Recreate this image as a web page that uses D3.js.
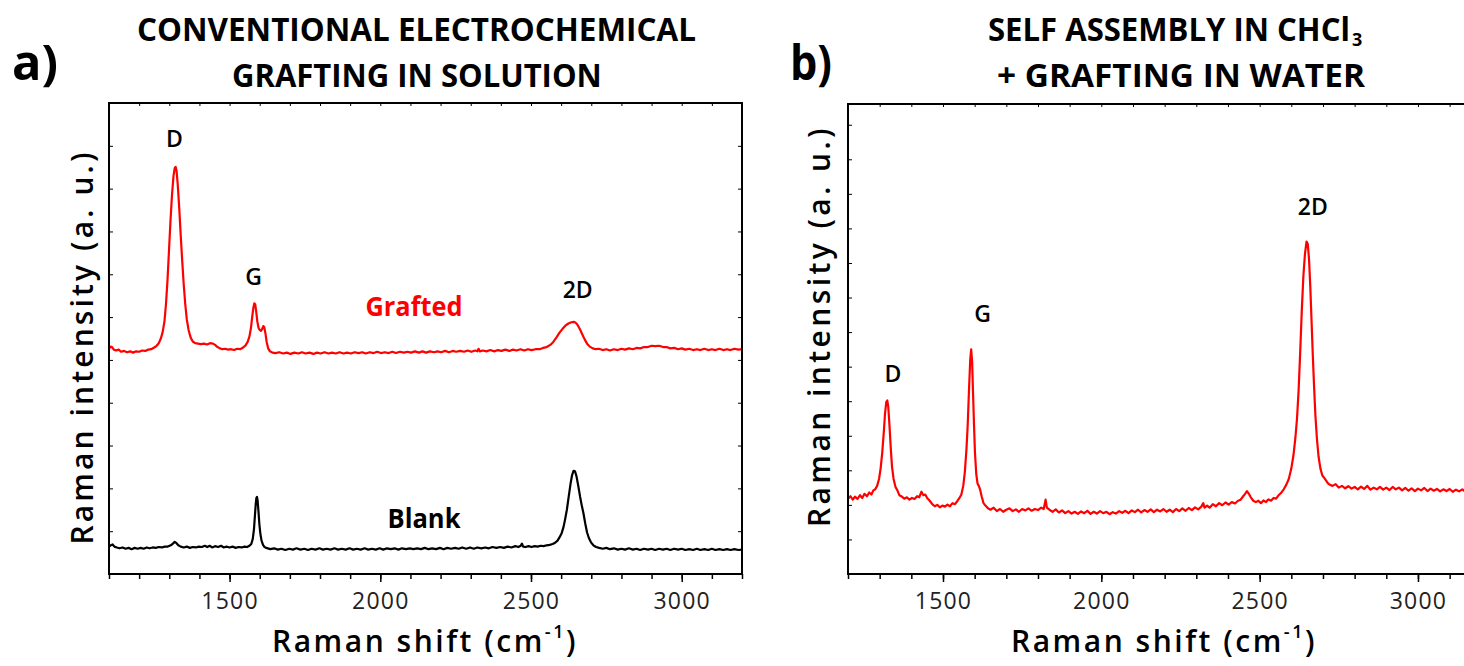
<!DOCTYPE html>
<html><head><meta charset="utf-8">
<script src="https://cdn.jsdelivr.net/npm/d3@7"></script>
<style>html,body{margin:0;padding:0;background:#fff;}svg{display:block;}</style>
</head><body>
<svg id="c" width="1464" height="666"></svg>
<script>
// ---------- DATA ----------
const ticksMajorA = [1500, 2000, 2500, 3000];
const ticksMajorB = [1500, 2000, 2500, 3000];
const peakLabelsA = [["D", 1317, 9.98], ["G", 1580, 6.75], ["2D", 2655, 6.45]];
const peakLabelsB = [["D", 1342, 5.55], ["G", 1625, 7.3], ["2D", 2668, 10.4]];

const graftedA = [[1100,5.26],[1106,5.31],[1110,5.30],[1116,5.24],[1124,5.22],[1132,5.24],[1140,5.19],[1150,5.21],[1160,5.18],[1170,5.20],[1180,5.17],[1190,5.20],[1200,5.19],[1210,5.22],[1220,5.21],[1230,5.24],[1240,5.25],[1250,5.29],[1258,5.33],[1265,5.39],[1272,5.50],[1278,5.65],[1284,5.90],[1289,6.30],[1294,6.85],[1299,7.55],[1304,8.25],[1309,8.85],[1314,9.30],[1318,9.48],[1321,9.51],[1324,9.42],[1328,9.10],[1333,8.55],[1338,7.90],[1343,7.30],[1348,6.75],[1353,6.30],[1358,5.95],[1364,5.70],[1371,5.52],[1378,5.43],[1386,5.39],[1395,5.38],[1405,5.37],[1415,5.38],[1425,5.36],[1435,5.39],[1445,5.38],[1452,5.35],[1460,5.30],[1468,5.27],[1476,5.25],[1485,5.26],[1495,5.24],[1505,5.25],[1515,5.23],[1525,5.26],[1535,5.25],[1545,5.29],[1553,5.34],[1560,5.42],[1566,5.55],[1571,5.75],[1575,6.00],[1579,6.22],[1582,6.32],[1585,6.30],[1588,6.15],[1592,5.90],[1596,5.75],[1600,5.70],[1604,5.68],[1608,5.72],[1612,5.79],[1615,5.77],[1619,5.62],[1623,5.42],[1628,5.27],[1634,5.20],[1642,5.17],[1652,5.16],[1665,5.18],[1678,5.15],[1690,5.17],[1702,5.14],[1715,5.17],[1728,5.15],[1740,5.18],[1752,5.15],[1765,5.17],[1778,5.14],[1790,5.17],[1802,5.15],[1815,5.18],[1828,5.15],[1840,5.17],[1852,5.15],[1865,5.18],[1878,5.15],[1890,5.17],[1902,5.15],[1915,5.18],[1928,5.16],[1940,5.18],[1952,5.15],[1965,5.18],[1978,5.16],[1990,5.19],[2002,5.16],[2015,5.18],[2028,5.16],[2040,5.19],[2052,5.16],[2065,5.19],[2078,5.17],[2090,5.19],[2102,5.17],[2115,5.20],[2128,5.17],[2140,5.20],[2152,5.17],[2165,5.20],[2178,5.18],[2190,5.20],[2202,5.18],[2215,5.21],[2228,5.18],[2240,5.21],[2252,5.19],[2265,5.21],[2278,5.19],[2290,5.22],[2302,5.19],[2315,5.22],[2322,5.20],[2326,5.26],[2330,5.20],[2340,5.22],[2352,5.20],[2365,5.23],[2378,5.20],[2390,5.23],[2402,5.21],[2415,5.24],[2428,5.21],[2440,5.24],[2452,5.22],[2465,5.25],[2478,5.22],[2490,5.25],[2502,5.23],[2515,5.25],[2528,5.25],[2540,5.28],[2552,5.30],[2564,5.35],[2574,5.42],[2584,5.52],[2594,5.63],[2604,5.72],[2614,5.80],[2624,5.85],[2634,5.88],[2642,5.89],[2648,5.87],[2654,5.82],[2662,5.72],[2670,5.60],[2678,5.48],[2686,5.38],[2695,5.31],[2705,5.27],[2715,5.25],[2725,5.26],[2738,5.23],[2750,5.25],[2762,5.22],[2775,5.25],[2788,5.23],[2800,5.26],[2812,5.24],[2825,5.27],[2838,5.25],[2850,5.28],[2862,5.27],[2875,5.30],[2888,5.30],[2900,5.33],[2912,5.32],[2925,5.33],[2938,5.30],[2950,5.30],[2962,5.27],[2975,5.28],[2988,5.25],[3000,5.27],[3012,5.24],[3025,5.26],[3038,5.23],[3050,5.25],[3062,5.23],[3075,5.26],[3088,5.23],[3100,5.25],[3112,5.23],[3125,5.26],[3138,5.23],[3150,5.25],[3162,5.23],[3175,5.26],[3188,5.24],[3200,5.25]];

const blankA = [[1100,0.64],[1106,0.67],[1112,0.69],[1118,0.64],[1126,0.62],[1135,0.60],[1145,0.62],[1155,0.59],[1165,0.61],[1175,0.58],[1185,0.61],[1195,0.59],[1205,0.61],[1215,0.59],[1225,0.62],[1235,0.60],[1245,0.62],[1255,0.61],[1265,0.63],[1275,0.62],[1285,0.64],[1295,0.64],[1305,0.67],[1312,0.71],[1318,0.75],[1324,0.72],[1330,0.67],[1338,0.64],[1348,0.62],[1358,0.64],[1368,0.61],[1378,0.63],[1388,0.62],[1398,0.64],[1408,0.63],[1418,0.66],[1426,0.63],[1434,0.66],[1442,0.62],[1452,0.65],[1462,0.63],[1472,0.66],[1480,0.62],[1490,0.64],[1500,0.62],[1510,0.64],[1520,0.61],[1530,0.63],[1540,0.62],[1550,0.64],[1558,0.63],[1566,0.66],[1572,0.70],[1577,0.82],[1581,1.05],[1584,1.35],[1587,1.65],[1589,1.78],[1591,1.80],[1593,1.72],[1596,1.45],[1599,1.15],[1602,0.95],[1606,0.78],[1611,0.68],[1616,0.63],[1622,0.61],[1635,0.58],[1648,0.60],[1660,0.57],[1672,0.59],[1685,0.56],[1698,0.59],[1710,0.57],[1722,0.60],[1735,0.57],[1748,0.59],[1760,0.56],[1772,0.59],[1785,0.57],[1798,0.60],[1810,0.57],[1822,0.59],[1835,0.57],[1848,0.60],[1860,0.57],[1872,0.59],[1885,0.57],[1898,0.60],[1910,0.57],[1922,0.59],[1935,0.57],[1948,0.60],[1960,0.57],[1972,0.59],[1985,0.57],[1998,0.60],[2010,0.57],[2022,0.60],[2035,0.58],[2048,0.60],[2060,0.57],[2072,0.60],[2085,0.58],[2098,0.60],[2110,0.58],[2122,0.60],[2135,0.58],[2148,0.61],[2160,0.58],[2172,0.60],[2185,0.58],[2198,0.61],[2210,0.58],[2222,0.61],[2235,0.59],[2248,0.61],[2260,0.59],[2272,0.62],[2285,0.59],[2298,0.62],[2310,0.59],[2322,0.62],[2335,0.60],[2348,0.62],[2360,0.60],[2372,0.63],[2385,0.61],[2398,0.63],[2410,0.61],[2422,0.64],[2435,0.62],[2448,0.65],[2458,0.63],[2466,0.66],[2470,0.71],[2474,0.64],[2482,0.63],[2492,0.65],[2502,0.63],[2512,0.65],[2522,0.64],[2532,0.66],[2542,0.65],[2552,0.67],[2562,0.68],[2572,0.70],[2580,0.73],[2588,0.78],[2595,0.86],[2602,0.96],[2608,1.10],[2613,1.27],[2619,1.50],[2625,1.80],[2631,2.10],[2636,2.30],[2641,2.41],[2646,2.40],[2651,2.28],[2657,2.05],[2663,1.80],[2669,1.58],[2674,1.42],[2680,1.18],[2686,0.97],[2692,0.84],[2699,0.74],[2707,0.67],[2716,0.63],[2726,0.61],[2738,0.59],[2750,0.61],[2762,0.58],[2775,0.60],[2788,0.57],[2800,0.59],[2812,0.57],[2825,0.60],[2838,0.57],[2850,0.59],[2862,0.56],[2875,0.59],[2888,0.57],[2900,0.59],[2912,0.56],[2925,0.59],[2938,0.57],[2950,0.59],[2962,0.56],[2975,0.59],[2988,0.57],[3000,0.59],[3012,0.56],[3025,0.58],[3038,0.56],[3050,0.59],[3062,0.56],[3075,0.58],[3088,0.56],[3100,0.59],[3112,0.56],[3125,0.58],[3138,0.56],[3150,0.58],[3162,0.56],[3175,0.58],[3188,0.56],[3200,0.57]];

const spectrumB = [[1200,2.18],[1208,2.25],[1215,2.15],[1222,2.24],[1230,2.17],[1238,2.28],[1245,2.20],[1252,2.32],[1260,2.25],[1267,2.36],[1274,2.30],[1280,2.42],[1286,2.45],[1292,2.55],[1298,2.75],[1303,3.05],[1308,3.50],[1313,4.10],[1317,4.65],[1321,4.98],[1324,5.02],[1327,4.85],[1331,4.30],[1335,3.65],[1339,3.10],[1344,2.75],[1350,2.52],[1356,2.42],[1362,2.28],[1370,2.24],[1378,2.18],[1386,2.22],[1394,2.15],[1402,2.20],[1410,2.17],[1418,2.25],[1425,2.22],[1432,2.38],[1438,2.28],[1444,2.30],[1450,2.20],[1458,2.12],[1466,2.02],[1474,1.96],[1482,2.00],[1490,1.93],[1498,1.98],[1506,1.95],[1514,2.01],[1522,1.96],[1530,2.05],[1538,2.02],[1546,2.12],[1552,2.20],[1558,2.30],[1564,2.55],[1569,2.95],[1574,3.60],[1578,4.30],[1582,5.30],[1586,6.20],[1589,6.50],[1592,6.15],[1595,5.20],[1598,4.30],[1601,3.50],[1605,2.90],[1609,2.62],[1613,2.55],[1617,2.45],[1622,2.25],[1628,2.05],[1634,1.98],[1642,1.90],[1650,1.86],[1660,1.92],[1670,1.82],[1680,1.88],[1690,1.80],[1700,1.86],[1710,1.90],[1720,1.82],[1730,1.87],[1740,1.80],[1750,1.88],[1760,1.84],[1770,1.90],[1780,1.83],[1790,1.88],[1800,1.85],[1810,1.92],[1818,1.88],[1824,2.15],[1828,1.92],[1836,1.86],[1846,1.80],[1856,1.87],[1866,1.78],[1876,1.84],[1886,1.76],[1896,1.82],[1906,1.75],[1916,1.80],[1926,1.74],[1936,1.81],[1946,1.76],[1956,1.83],[1966,1.74],[1976,1.80],[1986,1.75],[1996,1.82],[2006,1.76],[2016,1.80],[2026,1.73],[2036,1.79],[2046,1.75],[2056,1.82],[2066,1.77],[2076,1.83],[2086,1.76],[2096,1.84],[2106,1.79],[2116,1.86],[2126,1.78],[2136,1.85],[2146,1.80],[2156,1.87],[2166,1.79],[2176,1.86],[2186,1.81],[2196,1.88],[2206,1.80],[2216,1.86],[2226,1.79],[2236,1.88],[2246,1.82],[2256,1.90],[2266,1.83],[2276,1.91],[2286,1.85],[2296,1.93],[2306,1.87],[2316,1.95],[2322,2.05],[2326,1.92],[2334,1.98],[2342,1.92],[2352,2.02],[2362,1.96],[2372,2.05],[2382,1.99],[2392,2.07],[2402,2.01],[2412,2.08],[2422,2.04],[2432,2.12],[2440,2.15],[2448,2.25],[2454,2.32],[2460,2.40],[2466,2.32],[2472,2.22],[2480,2.12],[2488,2.08],[2496,2.12],[2504,2.05],[2512,2.13],[2520,2.08],[2528,2.16],[2536,2.12],[2544,2.20],[2552,2.18],[2560,2.28],[2568,2.35],[2576,2.45],[2584,2.58],[2592,2.75],[2600,3.05],[2607,3.45],[2613,3.95],[2618,4.50],[2623,5.30],[2628,6.40],[2633,7.60],[2638,8.60],[2643,9.25],[2648,9.62],[2652,9.55],[2656,9.10],[2660,8.30],[2664,7.30],[2668,6.30],[2672,5.40],[2676,4.60],[2681,3.90],[2686,3.40],[2692,3.05],[2698,2.85],[2704,2.78],[2710,2.70],[2716,2.62],[2722,2.58],[2730,2.55],[2740,2.60],[2750,2.50],[2760,2.55],[2770,2.48],[2780,2.54],[2790,2.47],[2800,2.52],[2810,2.45],[2820,2.53],[2830,2.46],[2840,2.55],[2850,2.44],[2860,2.50],[2870,2.45],[2880,2.52],[2890,2.44],[2900,2.50],[2910,2.43],[2920,2.52],[2930,2.45],[2940,2.50],[2950,2.42],[2960,2.49],[2970,2.41],[2980,2.48],[2990,2.40],[3000,2.47],[3010,2.42],[3020,2.49],[3030,2.40],[3040,2.47],[3050,2.41],[3060,2.46],[3070,2.39],[3080,2.45],[3090,2.40],[3100,2.46],[3110,2.38],[3120,2.44],[3130,2.39],[3140,2.45],[3150,2.38],[3160,2.44],[3170,2.39],[3180,2.45],[3190,2.40],[3200,2.44]];

// ---------- DRAW ----------
const svg = d3.select("#c");
const TITLE_FONT = "'Open Sans','Noto Sans',sans-serif";
const AX_FONT = "'Open Sans','Noto Sans',sans-serif";

function fitSpacing(sel, target) {
  const node = sel.node();
  const w = node.getBBox().width;
  const n = node.textContent.length;
  sel.attr("letter-spacing", ((target - w) / n).toFixed(2));
}

// bold condensed text: natural text squeezed horizontally by a transform
function squeezed(txt, x0, w, yb, size, color, anchor) {
  const t = svg.append("text").attr("x", 0).attr("y", 0).attr("font-family", TITLE_FONT)
    .attr("font-weight", "bold").attr("font-size", size).attr("fill", color || "#000").text(txt);
  const nat = t.node().getComputedTextLength();
  const k = w / nat;
  const left = anchor === "middle" ? x0 - w / 2 : x0;
  t.attr("transform", `translate(${left},${yb}) scale(${k.toFixed(4)},1)`);
  return t;
}

function panel(cfg) {
  const g = svg.append("g");
  const x = d3.scaleLinear().domain(cfg.xDomain).range([cfg.left, cfg.right]);
  const y = d3.scaleLinear().domain(cfg.yDomain).range([cfg.bottom, cfg.top]);
  const minor = d3.range(cfg.xDomain[0], cfg.xDomain[1] + 1, 100);
  const yt = d3.range(1, cfg.yDomain[1], 1);

  g.append("g").attr("transform", `translate(0,${cfg.bottom})`)
    .call(d3.axisBottom(x).tickValues(minor).tickSize(5).tickFormat(""))
    .call(a => a.select(".domain").remove())
    .call(a => a.selectAll("line").attr("stroke", "#000").attr("stroke-width", 1.5));
  g.append("g").attr("transform", `translate(0,${cfg.bottom})`)
    .call(d3.axisBottom(x).tickValues(cfg.major).tickSize(8).tickPadding(11).tickFormat(d3.format("d")))
    .call(a => a.select(".domain").remove())
    .call(a => a.selectAll("line").attr("stroke", "#000").attr("stroke-width", 1.5))
    .call(a => a.selectAll("text").attr("font-family", AX_FONT).attr("font-size", 23)
      .attr("fill", "#222").attr("letter-spacing", 1.2));
  g.append("g").attr("transform", `translate(0,${cfg.top})`)
    .call(d3.axisBottom(x).tickValues(minor).tickSize(3).tickFormat(""))
    .call(a => a.select(".domain").remove())
    .call(a => a.selectAll("line").attr("stroke", "#000").attr("stroke-width", 1));
  g.append("g").attr("transform", `translate(${cfg.left},0)`)
    .call(d3.axisRight(y).tickValues(yt).tickSize(4).tickFormat(""))
    .call(a => a.select(".domain").remove())
    .call(a => a.selectAll("line").attr("stroke", "#000").attr("stroke-width", 1));
  g.append("g").attr("transform", `translate(${cfg.right},0)`)
    .call(d3.axisLeft(y).tickValues(yt).tickSize(4).tickFormat(""))
    .call(a => a.select(".domain").remove())
    .call(a => a.selectAll("line").attr("stroke", "#000").attr("stroke-width", 1));

  const line = d3.line().x(d => x(d[0])).y(d => y(d[1]));
  cfg.series.forEach(s => {
    g.append("path").datum(s.data).attr("d", line).attr("fill", "none")
      .attr("stroke", s.color).attr("stroke-width", 2.2).attr("stroke-linejoin", "round");
  });

  g.append("rect").attr("x", cfg.left).attr("y", cfg.top)
    .attr("width", cfg.right - cfg.left).attr("height", cfg.bottom - cfg.top)
    .attr("fill", "none").attr("stroke", "#000").attr("stroke-width", 2);

  cfg.peaks.forEach(p => {
    g.append("text").attr("x", x(p[1])).attr("y", y(p[2])).attr("text-anchor", "middle")
      .attr("font-family", AX_FONT).attr("font-weight", 600).attr("font-size", 23)
      .attr("fill", "#000").text(p[0]);
  });

  const yt1 = g.append("text")
    .attr("transform", `translate(${cfg.yTitleX},${cfg.yTitleY}) rotate(-90)`)
    .attr("text-anchor", "middle").attr("font-family", AX_FONT).attr("font-weight", 600)
    .attr("font-size", 30).attr("fill", "#000").text("Raman intensity (a. u.)");
  fitSpacing(yt1, cfg.yTitleLen);

  const xt = g.append("text").attr("x", cfg.xTitleX).attr("y", 652).attr("text-anchor", "middle")
    .attr("font-family", AX_FONT).attr("font-weight", 600).attr("font-size", 30).attr("fill", "#000");
  xt.append("tspan").text("Raman shift (cm");
  xt.append("tspan").attr("font-size", 18).attr("dy", -14).text("-1");
  xt.append("tspan").attr("dy", 14).text(")");
  fitSpacing(xt, 306);
  return {x, y};
}

panel({
  xDomain: [1100, 3200], yDomain: [0, 11], left: 109, right: 742, top: 103, bottom: 574,
  major: ticksMajorA, peaks: peakLabelsA,
  series: [{data: graftedA, color: "#ff0000"}, {data: blankA, color: "#000"}],
  yTitleX: 93, yTitleY: 347, yTitleLen: 395, xTitleX: 425
});
panel({
  xDomain: [1200, 3200], yDomain: [0, 13.6], left: 848, right: 1481.3, top: 104, bottom: 574,
  major: ticksMajorB, peaks: peakLabelsB,
  series: [{data: spectrumB, color: "#ff0000"}],
  yTitleX: 830, yTitleY: 326, yTitleLen: 402, xTitleX: 1164
});

squeezed("Grafted", 414, 97, 316, 27, "#ff0000", "middle");
squeezed("Blank", 424, 73, 528, 27, "#000", "middle");

squeezed("CONVENTIONAL ELECTROCHEMICAL", 137, 559, 41, 33);
squeezed("GRAFTING IN SOLUTION", 232, 370, 87, 33);
squeezed("SELF ASSEMBLY IN CHCl", 988, 362, 41, 33);
svg.append("text").attr("x", 1352).attr("y", 46).attr("font-family", TITLE_FONT)
  .attr("font-weight", "bold").attr("font-size", 18).attr("fill", "#000").text("3");
squeezed("+ GRAFTING IN WATER", 997, 368, 87, 33);
squeezed("a)", 12, 46, 80, 48);
squeezed("b)", 790, 42, 80, 48);
</script>
</body></html>
